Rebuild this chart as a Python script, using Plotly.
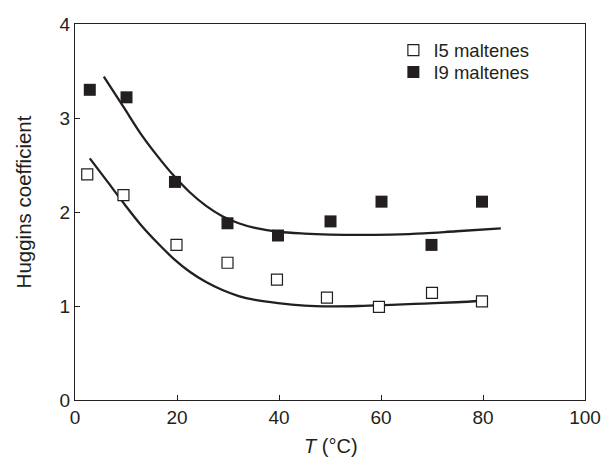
import plotly.graph_objects as go

# Data
i5_temp = [2.4, 9.5, 19.9, 29.9, 39.6, 49.4, 59.6, 70.0, 79.8]
i5_vals = [2.40, 2.18, 1.65, 1.46, 1.28, 1.09, 0.99, 1.14, 1.05]
i9_temp = [2.9, 10.1, 19.6, 29.9, 39.8, 50.1, 60.1, 69.9, 79.8]
i9_vals = [3.30, 3.22, 2.32, 1.88, 1.75, 1.90, 2.11, 1.65, 2.11]

# Fitted curves
fit_i5_t = [2.9, 6.4, 9.6, 12.8, 16.1, 19.3, 22.5, 25.7, 28.9, 32.1, 35.3, 39.8, 45.0, 50.0, 55.6, 62.0, 68.4, 74.8, 79.8]
fit_i5_y = [2.57, 2.32, 2.09, 1.87, 1.675, 1.505, 1.365, 1.255, 1.17, 1.106, 1.064, 1.03, 1.005, 0.997, 1.0, 1.012, 1.026, 1.04, 1.056]
fit_i9_t = [5.65, 9.6, 12.8, 16.1, 19.3, 22.5, 25.7, 28.9, 32.1, 35.3, 39.8, 45.0, 50.0, 55.6, 62.0, 68.4, 74.8, 83.5]
fit_i9_y = [3.44, 3.11, 2.84, 2.60, 2.39, 2.21, 2.065, 1.955, 1.88, 1.83, 1.79, 1.77, 1.76, 1.756, 1.76, 1.772, 1.795, 1.825]

x_ticks = [0, 20, 40, 60, 80, 100]
y_ticks = [0, 1, 2, 3, 4]

INK = "#231f20"
FONT = "Liberation Sans, Arial, sans-serif"

fig = go.Figure()
fig.add_trace(go.Scatter(x=fit_i5_t, y=fit_i5_y, mode="lines",
                         line=dict(color=INK, width=2.3, shape="spline", smoothing=1.0),
                         showlegend=False, hoverinfo="skip"))
fig.add_trace(go.Scatter(x=fit_i9_t, y=fit_i9_y, mode="lines",
                         line=dict(color=INK, width=2.3, shape="spline", smoothing=1.0),
                         showlegend=False, hoverinfo="skip"))
fig.add_trace(go.Scatter(x=i5_temp, y=i5_vals, mode="markers", name="I5 maltenes", legend="legend",
                         marker=dict(symbol="square", size=11, color="white", line=dict(color=INK, width=1.2))))
fig.add_trace(go.Scatter(x=i9_temp, y=i9_vals, mode="markers", name="I9 maltenes", legend="legend2",
                         marker=dict(symbol="square", size=12, color=INK, line=dict(color=INK, width=0))))

axis_common = dict(showgrid=False, zeroline=False, showline=True, linecolor=INK, linewidth=1.3,
                   mirror=True, ticks="inside", ticklen=5, tickwidth=1.2, tickcolor=INK,
                   tickfont=dict(family=FONT, size=19, color=INK))

legend_common = dict(x=(399 - 75) / 519, xanchor="left", yanchor="middle", bgcolor="rgba(0,0,0,0)",
                     font=dict(family=FONT, size=18.5, color=INK), itemwidth=30)

fig.update_layout(
    width=613, height=457,
    margin=dict(l=75, r=19, t=24, b=57),
    paper_bgcolor="white", plot_bgcolor="white",
    font=dict(family=FONT, color=INK),
    xaxis=dict(range=[0, 100], tickvals=x_ticks, ticktext=[str(v) for v in x_ticks], **axis_common),
    yaxis=dict(range=[0, 4], tickvals=y_ticks, ticktext=[str(v) for v in y_ticks], **axis_common),
    legend=dict(y=(400 - 50.5) / 376, **legend_common),
    legend2=dict(y=(400 - 72.5) / 376, **legend_common),
    annotations=[
        dict(text="<i>T</i> (°C)", xref="paper", yref="paper", x=(336 - 75) / 519, y=(400 - 446) / 376,
             xanchor="center", yanchor="middle", showarrow=False,
             font=dict(family=FONT, size=20, color=INK)),
        dict(text="Huggins coefficient", xref="paper", yref="paper", x=(22.5 - 75) / 519, y=(400 - 202) / 376,
             xanchor="center", yanchor="middle", textangle=-90, showarrow=False,
             font=dict(family=FONT, size=20.5, color=INK)),
    ],
)

fig.write_html("out.html", config={"displayModeBar": False})

# remove the default page margin so the figure sits at the window origin
with open("out.html", "r", encoding="utf-8") as f:
    html = f.read()
html = html.replace("<body>", '<body style="margin:0;">', 1)
with open("out.html", "w", encoding="utf-8") as f:
    f.write(html)
